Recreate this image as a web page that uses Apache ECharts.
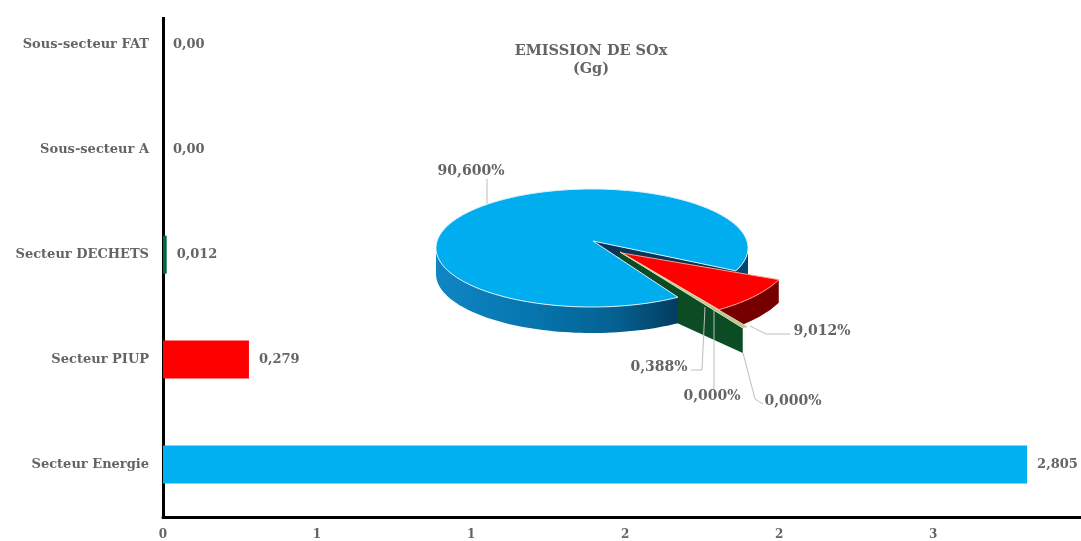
<!DOCTYPE html>
<html><head><meta charset="utf-8">
<style>html,body{margin:0;padding:0;background:#fff;overflow:hidden}#c{position:absolute;left:0;top:-10px;width:1081px;height:551px}</style>
<script src="https://cdn.jsdelivr.net/npm/echarts@6/dist/echarts.min.js"></script>
</head><body><div id="c"></div>
<script>
const categories = ['Secteur Energie','Secteur PIUP','Secteur DECHETS','Sous-secteur A','Sous-secteur FAT'];
const barValues = [2.805, 0.279, 0.012, 0, 0];
const barLabels = ['2,805','0,279','0,012','0,00','0,00'];
const barColors = ['#00B0F0','#FF0000','#00683A','#7F7F7F','#7F7F7F'];
const xTickLabels = ['0','1','1','2','2','3'];
const pieValues = [90.6, 9.012, 0.388, 0, 0];
const pieLabels = ['90,600%','9,012%','0,388%','0,000%','0,000%'];

const FONT = '"DejaVu Serif", serif', GREY = '#646464';
const SHIFT = 10; // the chart box starts above the page so the first category band can overflow the axis line
const total = pieValues.reduce((a, b) => a + b, 0);
const START = 56.6;
// perspective footprint of each exploded slice
const geom = [
  {ax:593, ay:241, cx:592, cy:248, rx:156, ry:59, h:26},
  {ax:622, ay:253, cx:622, cy:253, rx:170, ry:69, h:23},
  {ax:620, ay:252, cx:620, cy:252, rx:223, ry:91, h:25}
];
const leaders = [
  {pts:[[487,204],[487,179]], at:[471,171]},
  {pts:[[750,326],[766,334],[790,334]], at:[822,331]},
  {pts:[[705,307],[702,370],[691,370]], at:[659,367]},
  {pts:[[714,307],[714,389]], at:[712,396]},
  {pts:[[743,353],[755,399],[763,404]], at:[793,401]}
];
function angles(i){
  let s = START;
  for (let k = 0; k < i; k++) s += pieValues[k] / total * 360;
  return [s, s + pieValues[i] / total * 360];
}
function pt(g, t, dy){
  const a = t * Math.PI / 180;
  return [g.cx + g.rx * Math.cos(a), g.cy + g.ry * Math.sin(a) + (dy || 0)];
}
function arc(g, a, b, dy){
  const out = [], n = Math.max(2, Math.ceil(Math.abs(b - a) / 2));
  for (let i = 0; i <= n; i++) out.push(pt(g, a + (b - a) * i / n, dy));
  return out;
}
function poly(points, style, z2){
  return {type:'polygon', shape:{points}, style, z2, silent:true};
}
function rim(g, a, b){
  return arc(g, a, b, 0).concat(arc(g, b, a, g.h));
}
function renderSlice(params){
  const i = params.dataIndex, [a, b] = angles(i), kids = [];
  const edge = {stroke:'#d8f0fb', lineWidth:1};
  if (i === 0) {
    const g = geom[0], e = pt(g, b);
    kids.push(poly([[g.ax, g.ay], e, [e[0], e[1] + g.h], [g.ax, g.ay + 8]], {fill:'#0A3558'}, 1));
    kids.push(poly(rim(g, a, 180), {fill:{type:'linear',x:1,y:0,x2:0,y2:0,colorStops:[
      {offset:0,color:'#033C60'},{offset:0.25,color:'#05608F'},{offset:0.6,color:'#0675AE'},{offset:1,color:'#0F86C4'}]}}, 5));
    kids.push(poly(rim(g, 0, b - 360), {fill:'#04466E'}, 2));
    kids.push(poly([[g.ax, g.ay]].concat(arc(g, a, b)), Object.assign({fill:'#00ADEF'}, edge), 6));
  } else if (i === 1) {
    const g = geom[1];
    kids.push(poly(rim(g, a, b), {fill:'#760000'}, 3));
    kids.push(poly([[g.ax, g.ay]].concat(arc(g, a, b)), {fill:'#FF0000', stroke:'#ff9c8c', lineWidth:1}, 7));
  } else if (i === 2) {
    const g = geom[2], e = pt(g, b);
    kids.push(poly([[g.ax, g.ay], e, [e[0], e[1] + g.h], [g.ax, g.ay + 45]], {fill:'#0C4C24'}, 4));
    kids.push(poly([[g.ax, g.ay]].concat(arc(g, a, b)), {fill:'#B9C98F', stroke:'#d9d9b0', lineWidth:1}, 8));
  }
  const L = leaders[i];
  kids.push({type:'polyline', shape:{points:L.pts}, silent:true, z2:9,
    style:{stroke:'#bdbdbd', lineWidth:1, fill:null}});
  kids.push({type:'text', silent:true, z2:10, x:L.at[0], y:L.at[1],
    style:{text:pieLabels[i], fill:GREY, font:'bold 14px ' + FONT, align:'center', verticalAlign:'middle'}});
  return {type:'group', y:SHIFT, children:kids};
}
const option = {
  animation:false,
  backgroundColor:'#fff',
  title:{text:'EMISSION DE SOx\n(Gg)', left:586, top:SHIFT + 37, textAlign:'center',
    textStyle:{fontFamily:FONT, fontSize:14.5, fontWeight:'bold', color:GREY, lineHeight:18}},
  grid:{left:163, right:0, top:SHIFT - 7.6, height:527.4},
  xAxis:{type:'value', min:0, max:2.98, interval:0.5,
    axisLine:{show:true, lineStyle:{color:'#000', width:3}}, axisTick:{show:false}, splitLine:{show:false},
    axisLabel:{margin:12, color:GREY, fontFamily:FONT, fontSize:12, fontWeight:'bold', showMaxLabel:false,
      formatter:v => { const k = Math.round(v / 0.5); return Math.abs(k * 0.5 - v) < 1e-6 && xTickLabels[k] || ''; }}},
  yAxis:{type:'category', data:categories,
    axisLine:{show:true, lineStyle:{color:'#000', width:3}}, axisTick:{show:false},
    axisLabel:{margin:14, color:GREY, fontFamily:FONT, fontSize:13, fontWeight:'bold'}},
  graphic:[{type:'rect', z:100, silent:true, shape:{x:155, y:0, width:16, height:SHIFT + 17}, style:{fill:'#fff'}}],
  series:[
    {type:'bar', barWidth:38, z:1,
     data:barValues.map((v, i) => ({value:v, itemStyle:{color:barColors[i]}})),
     label:{show:true, position:'right', distance:10, color:GREY, fontFamily:FONT, fontSize:13, fontWeight:'bold',
       formatter:p => barLabels[p.dataIndex]}},
    {type:'custom', coordinateSystem:'none', z:5, clip:false, data:pieValues.map((v, i) => [i, v]), renderItem:renderSlice}
  ]
};
echarts.init(document.getElementById('c')).setOption(option);
</script></body></html>
